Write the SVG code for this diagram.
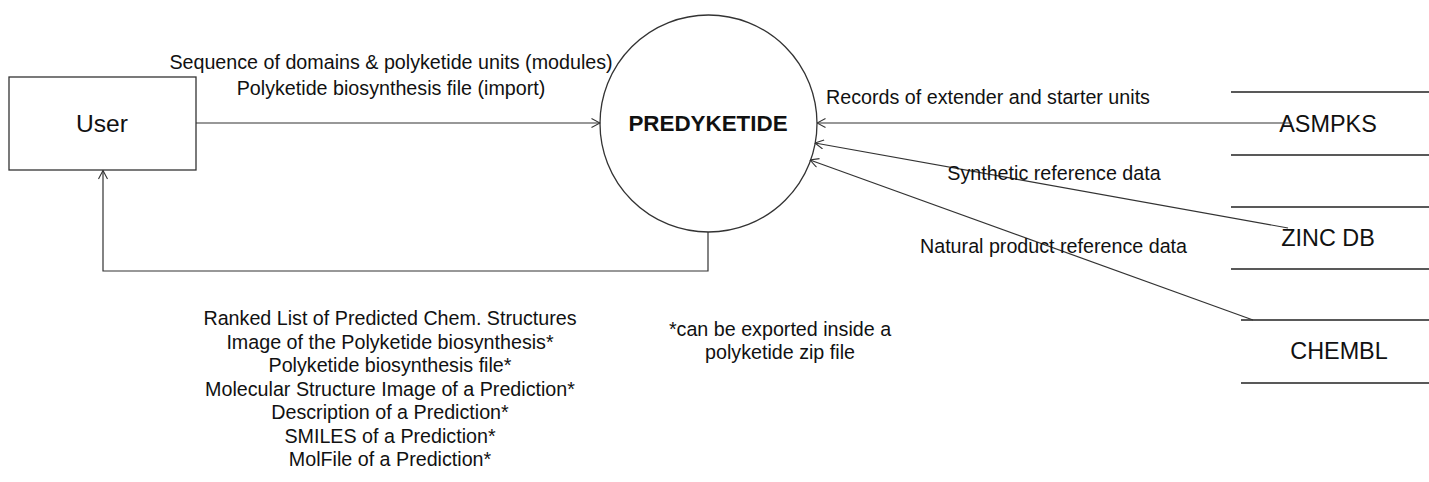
<svg xmlns="http://www.w3.org/2000/svg" width="1429" height="482" viewBox="0 0 1429 482">
  <style>
    .lbl { font-family: "Liberation Sans", Arial, sans-serif; font-size: 19.7px; fill: #111; text-anchor: middle; }
    .node { font-family: "Liberation Sans", Arial, sans-serif; fill: #111; text-anchor: middle; }
    .edge { fill: none; stroke: #333; stroke-width: 1.2; }
    .shape { fill: #fff; stroke: #333; stroke-width: 1.3; }
    .store { stroke: #222; stroke-width: 1.4; }
  </style>
  <defs>
    <marker id="open" viewBox="0 0 10 10" refX="9.5" refY="5" markerWidth="10" markerHeight="10" markerUnits="userSpaceOnUse" orient="auto">
      <path d="M1,0.5 L9.5,5 L1,9.5" fill="none" stroke="#333" stroke-width="1.1"/>
    </marker>
  </defs>
  <rect width="1429" height="482" fill="#fff"/>

  <!-- external entity -->
  <g id="user">
    <rect class="shape" x="9" y="77" width="187" height="93"/>
    <text class="node" x="102" y="132" font-size="24.6">User</text>
  </g>

  <!-- central process -->
  <g id="predyketide">
    <circle class="shape" cx="708.5" cy="123.5" r="108.5"/>
    <text class="node" x="708" y="131" font-size="22.4" font-weight="bold">PREDYKETIDE</text>
  </g>

  <!-- data stores -->
  <g id="asmpks">
    <line class="store" x1="1231" y1="92" x2="1429" y2="92"/>
    <line class="store" x1="1231" y1="155" x2="1429" y2="155"/>
    <text class="node" x="1328" y="132" font-size="23.4">ASMPKS</text>
  </g>
  <g id="zincdb">
    <line class="store" x1="1231" y1="207" x2="1429" y2="207"/>
    <line class="store" x1="1231" y1="269" x2="1429" y2="269"/>
    <text class="node" x="1328" y="246" font-size="23.4">ZINC DB</text>
  </g>
  <g id="chembl">
    <line class="store" x1="1241" y1="320" x2="1429" y2="320"/>
    <line class="store" x1="1241" y1="383" x2="1429" y2="383"/>
    <text class="node" x="1339" y="359" font-size="23.4">CHEMBL</text>
  </g>

  <!-- data flows -->
  <g id="connectors">
    <line class="edge" x1="196" y1="123" x2="600" y2="123" marker-end="url(#open)"/>
    <polyline class="edge" points="708,232 708,271 103,271 103,170.5" marker-end="url(#open)"/>
    <line class="edge" x1="1292" y1="123" x2="817" y2="123" marker-end="url(#open)"/>
    <line class="edge" x1="1288" y1="228" x2="815" y2="143" marker-end="url(#open)"/>
    <line class="edge" x1="1253" y1="320" x2="810" y2="160" marker-end="url(#open)"/>
  </g>

  <!-- flow labels -->
  <g id="labels">
    <text class="lbl" x="391" y="69">Sequence of domains &amp; polyketide units (modules)</text>
    <text class="lbl" x="391" y="95">Polyketide biosynthesis file (import)</text>
    <text class="lbl" x="988" y="104">Records of extender and starter units</text>
    <text class="lbl" x="1054" y="180">Synthetic reference data</text>
    <text class="lbl" x="1053.5" y="253">Natural product reference data</text>
    <text class="lbl" x="390" y="325">Ranked List of Predicted Chem. Structures</text>
    <text class="lbl" x="390" y="348.5">Image of the Polyketide biosynthesis*</text>
    <text class="lbl" x="390" y="372">Polyketide biosynthesis file*</text>
    <text class="lbl" x="390" y="395.5">Molecular Structure Image of a Prediction*</text>
    <text class="lbl" x="390" y="419">Description of a Prediction*</text>
    <text class="lbl" x="390" y="442.5">SMILES of a Prediction*</text>
    <text class="lbl" x="390" y="466">MolFile of a Prediction*</text>
    <text class="lbl" x="780" y="336">*can be exported inside a</text>
    <text class="lbl" x="780" y="359">polyketide zip file</text>
  </g>
</svg>
